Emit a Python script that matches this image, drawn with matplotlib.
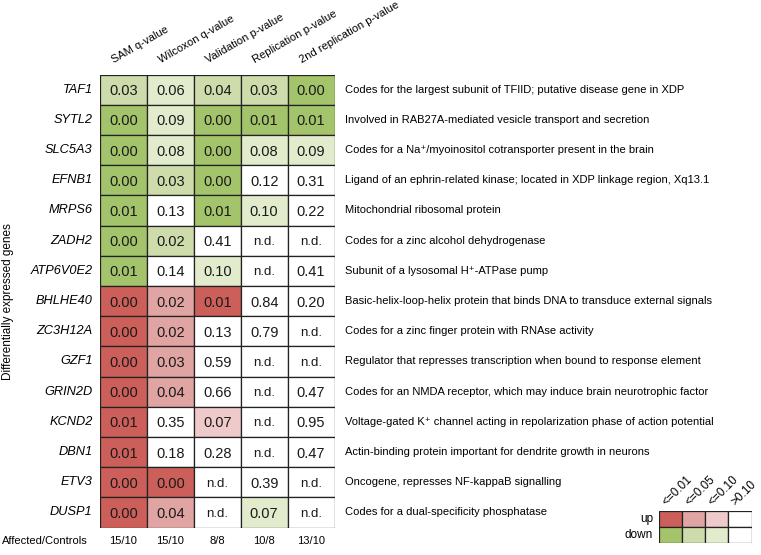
import matplotlib.pyplot as plt
from matplotlib.patches import Rectangle

plt.rcParams['font.family'] = ['Liberation Sans', 'DejaVu Sans']

genes = ['TAF1', 'SYTL2', 'SLC5A3', 'EFNB1', 'MRPS6', 'ZADH2', 'ATP6V0E2',
         'BHLHE40', 'ZC3H12A', 'GZF1', 'GRIN2D', 'KCND2', 'DBN1', 'ETV3', 'DUSP1']
columns = ['SAM q-value', 'Wilcoxon q-value', 'Validation p-value',
           'Replication p-value', '2nd replication p-value']
# None = n.d.
values = [
    [0.03, 0.06, 0.04, 0.03, 0.00],
    [0.00, 0.09, 0.00, 0.01, 0.01],
    [0.00, 0.08, 0.00, 0.08, 0.09],
    [0.00, 0.03, 0.00, 0.12, 0.31],
    [0.01, 0.13, 0.01, 0.10, 0.22],
    [0.00, 0.02, 0.41, None, None],
    [0.01, 0.14, 0.10, None, 0.41],
    [0.00, 0.02, 0.01, 0.84, 0.20],
    [0.00, 0.02, 0.13, 0.79, None],
    [0.00, 0.03, 0.59, None, None],
    [0.00, 0.04, 0.66, None, 0.47],
    [0.01, 0.35, 0.07, None, 0.95],
    [0.01, 0.18, 0.28, None, 0.47],
    [0.00, 0.00, None, 0.39, None],
    [0.00, 0.04, None, 0.07, None],
]
# D = down, U = up, per cell
direction = ['DDDDD', 'DDDDD', 'DDDDD', 'DDDDD', 'DDDDD', 'DDDDD', 'DDDDD',
             'UUUUU', 'UUUUU', 'UUUUU', 'UUUUU', 'UUUUU', 'UUUUU', 'UUUUU', 'UUUDU']
descriptions = [
    'Codes for the largest subunit of TFIID; putative disease gene in XDP',
    'Involved in RAB27A-mediated vesicle transport and secretion',
    'Codes for a Na\u207a/myoinositol cotransporter present in the brain',
    'Ligand of an ephrin-related kinase; located in XDP linkage region, Xq13.1',
    'Mitochondrial ribosomal protein',
    'Codes for a zinc alcohol dehydrogenase',
    'Subunit of a lysosomal H\u207a-ATPase pump',
    'Basic-helix-loop-helix protein that binds DNA to transduce external signals',
    'Codes for a zinc finger protein with RNAse activity',
    'Regulator that represses transcription when bound to response element',
    'Codes for an NMDA receptor, which may induce brain neurotrophic factor',
    'Voltage-gated K\u207a channel acting in repolarization phase of action potential',
    'Actin-binding protein important for dendrite growth in neurons',
    'Oncogene, represses NF-kappaB signalling',
    'Codes for a dual-specificity phosphatase',
]
affected_controls = ['15/10', '15/10', '8/8', '10/8', '13/10']

legend_levels = ['<=0.01', '<=0.05', '<=0.10', '>0.10']
legend_rows = ['up', 'down']

palette = {
    'U': ['#cd5f5a', '#e0a5a3', '#efcaca', '#ffffff'],
    'D': ['#a3c46a', '#cddcaa', '#e2ebcc', '#ffffff'],
}


def level(v):
    if v is None or v > 0.10:
        return 3
    if v <= 0.01:
        return 0
    if v <= 0.05:
        return 1
    return 2


W, H = 761, 555
fig = plt.figure(figsize=(W / 100, H / 100), dpi=100)

# main grid
gx0, gx1, gy0, gy1 = 100, 334.5, 74.5, 527.5
ax = fig.add_axes([gx0 / W, 1 - gy1 / H, (gx1 - gx0) / W, (gy1 - gy0) / H])
ax.set_xlim(0, len(columns))
ax.set_ylim(len(genes), 0)
ax.axis('off')

for i, g in enumerate(genes):
    for j in range(len(columns)):
        v = values[i][j]
        c = palette[direction[i][j]][level(v)]
        ax.add_patch(Rectangle((j, i), 1, 1, facecolor=c, edgecolor='#222222', lw=0.9))
        if v is None:
            ax.text(j + 0.5, i + 0.55, 'n.d.', ha='center', va='center', fontsize=9.5,
                    color='#1a1a1a')
        else:
            ax.text(j + 0.5, i + 0.55, f'{v:.2f}', ha='center', va='center', fontsize=10.5,
                    color='#1a1a1a')
    ax.text(-0.16, i + 0.5, g, ha='right', va='center', fontsize=9.2, style='italic')
    ax.text(5.22, i + 0.5, descriptions[i], ha='left', va='center', fontsize=8)

for j, col in enumerate(columns):
    ax.text(j + 0.33, -0.3, col, ha='left', va='bottom', rotation=30,
            rotation_mode='anchor', fontsize=8)
    ax.text(j + 0.5, 15.45, affected_controls[j], ha='center', va='center', fontsize=8)

ax.text(-0.255, 15.45, 'Affected/Controls', ha='right', va='center', fontsize=8)
ax.text(8 / W, 1 - 302 / H, 'Differentially expressed genes', rotation=90,
        ha='center', va='center', fontsize=8.5, transform=fig.transFigure)

# legend
lx0, lx1, ly0, ly1 = 658.7, 751.7, 510.7, 543.3
lax = fig.add_axes([lx0 / W, 1 - ly1 / H, (lx1 - lx0) / W, (ly1 - ly0) / H])
lax.set_xlim(0, len(legend_levels))
lax.set_ylim(len(legend_rows), 0)
lax.axis('off')
for r, name in enumerate(legend_rows):
    key = 'U' if name == 'up' else 'D'
    for k in range(len(legend_levels)):
        lax.add_patch(Rectangle((k, r), 1, 1, facecolor=palette[key][k],
                                edgecolor='#222222', lw=0.9))
    lax.text(-0.25, r + 0.5, name, ha='right', va='center', fontsize=8.5)
for k, lab in enumerate(legend_levels):
    lax.text(k + 0.4, -0.15, lab, ha='left', va='bottom', rotation=45,
             rotation_mode='anchor', fontsize=8.5)

fig.savefig('out.png', dpi=100)
